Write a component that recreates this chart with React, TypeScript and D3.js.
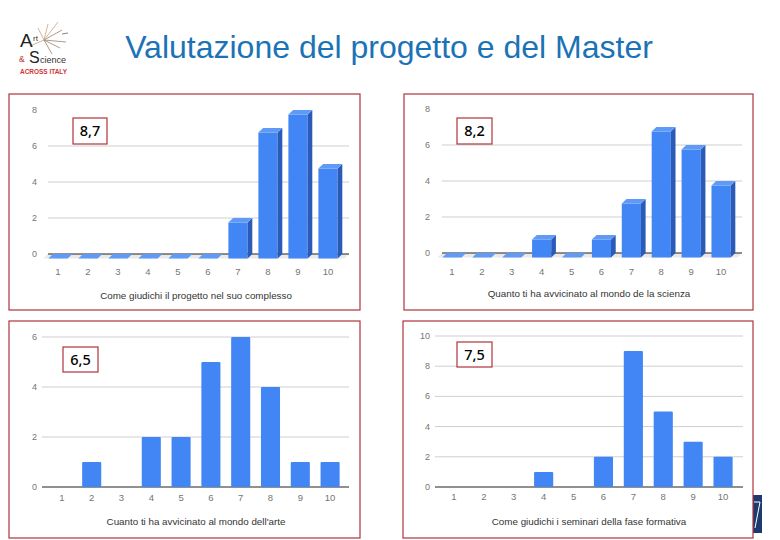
import React from "react";
import * as d3 from "d3";

const categories = ["1", "2", "3", "4", "5", "6", "7", "8", "9", "10"];
const valuesProgetto = [0, 0, 0, 0, 0, 0, 2, 7, 8, 5];
const valuesScienza = [0, 0, 0, 1, 0, 1, 3, 7, 6, 4];
const valuesArte = [0, 1, 0, 2, 2, 5, 6, 4, 1, 1];
const valuesSeminari = [0, 0, 0, 1, 0, 2, 9, 5, 3, 2];
const averages = ["8,7", "8,2", "6,5", "7,5"];
const axisTitles = [
  "Come giudichi il progetto nel suo complesso",
  "Quanto ti ha avvicinato al mondo de la scienza",
  "Cuanto ti ha avvicinato al mondo dell'arte",
  "Come giudichi i seminari della fase formativa",
];
const yTicks3D = [0, 2, 4, 6, 8];
const yTicksArte = [0, 2, 4, 6];
const yTicksSeminari = [0, 2, 4, 6, 8, 10];
const mainTitle = "Valutazione del progetto e del Master";

const BLUE = "#4285f4";
const SIDE = "#2b5bb8";
const TOP = "#5f9af6";
const FRAME = "#b0323c";

type PanelCfg = {
  frame: [number, number, number, number];
  values: number[];
  ticks: number[];
  yMax: number;
  yRange: [number, number];
  xRange: [number, number];
  gridX: [number, number];
  tickX: number;
  xLabelY: number;
  title: string;
  titleX: number;
  titleY: number;
  avg: string;
  box: [number, number, number, number];
  threeD: boolean;
  topGrid: boolean;
};

function Panel({ c }: { c: PanelCfg }) {
  const x = d3
    .scaleBand<string>()
    .domain(categories)
    .range(c.xRange)
    .paddingInner(0.36)
    .paddingOuter(0.18);
  const y = d3.scaleLinear().domain([0, c.yMax]).range(c.yRange);
  const bw = x.bandwidth();
  const dx = 4.7;
  const dy = 4.5;
  const [fx, fy, fw, fh] = c.frame;
  const [bx, by, bW, bH] = c.box;
  const y0 = y(0);
  const gridTicks = c.ticks.filter((t) => t !== 0 && (c.topGrid || t !== c.yMax));
  return (
    <g>
      <rect x={fx} y={fy} width={fw} height={fh} fill="#fff" stroke={FRAME} strokeWidth={1.2} />
      {gridTicks.map((t) => (
        <line key={t} x1={c.gridX[0]} x2={c.gridX[1]} y1={y(t)} y2={y(t)} stroke="#cfcfcf" strokeWidth={1} />
      ))}
      {c.ticks.map((t) => (
        <text key={"yt" + t} x={c.tickX} y={y(t) + 3} textAnchor="end" fontSize={9} fill="#757575" fontFamily="Liberation Sans, Arial, sans-serif">
          {t}
        </text>
      ))}
      {c.threeD && (
        <path
          d={`M${c.gridX[0]},${y0} L${c.gridX[1]},${y0} L${c.gridX[1] - dx},${y0 + dy} L${c.gridX[0] - dx},${y0 + dy} Z`}
          fill="#e9e9e9"
        />
      )}
      <line x1={c.gridX[0]} x2={c.gridX[1]} y1={y0} y2={y0} stroke="#222" strokeWidth={1.2} />
      {c.values.map((v, i) => {
        const cat = categories[i];
        const x0 = x(cat)!;
        const x1 = x0 + bw;
        if (!c.threeD) {
          if (v === 0) return null;
          return <rect key={cat} x={x0} y={y(v)} width={bw} height={y0 - y(v)} fill={BLUE} rx={1} />;
        }
        const yf = y(v) + dy;
        const yb = y0 + dy;
        return (
          <g key={cat}>
            {v > 0 && <rect x={x0} y={yf} width={bw} height={yb - yf} fill={BLUE} />}
            {v > 0 && (
              <path d={`M${x1},${yf} L${x1 + dx},${yf - dy} L${x1 + dx},${yb - dy} L${x1},${yb} Z`} fill={SIDE} />
            )}
            <path d={`M${x0},${yf} L${x1},${yf} L${x1 + dx},${yf - dy} L${x0 + dx},${yf - dy} Z`} fill={TOP} />
          </g>
        );
      })}
      {categories.map((cat) => (
        <text key={"xt" + cat} x={x(cat)! + bw / 2} y={c.xLabelY} textAnchor="middle" fontSize={9.5} fill="#757575" fontFamily="Liberation Sans, Arial, sans-serif">
          {cat}
        </text>
      ))}
      <text x={c.titleX} y={c.titleY} textAnchor="middle" fontSize={9.8} fill="#333" fontFamily="Liberation Sans, Arial, sans-serif">
        {c.title}
      </text>
      <rect x={bx} y={by} width={bW} height={bH} fill="#fff" stroke={FRAME} strokeWidth={1.2} />
      <text x={bx + bW / 2} y={by + bH / 2 + 5} textAnchor="middle" fontSize={14.5} fill="#000" fontFamily="Noto Sans, sans-serif" fontWeight={500}>
        {c.avg}
      </text>
    </g>
  );
}

const panels: PanelCfg[] = [
  {
    frame: [9, 94, 351, 216],
    values: valuesProgetto,
    ticks: yTicks3D,
    yMax: 8,
    yRange: [254, 110],
    xRange: [43, 343],
    gridX: [48, 349],
    tickX: 37,
    xLabelY: 275,
    title: axisTitles[0],
    titleX: 196,
    titleY: 299,
    avg: averages[0],
    box: [73, 118, 34, 26],
    threeD: true,
    topGrid: false,
  },
  {
    frame: [404, 94, 349, 216],
    values: valuesScienza,
    ticks: yTicks3D,
    yMax: 8,
    yRange: [253, 109],
    xRange: [437, 736],
    gridX: [442, 742],
    tickX: 430,
    xLabelY: 275,
    title: axisTitles[1],
    titleX: 589,
    titleY: 297,
    avg: averages[1],
    box: [457, 118, 35, 26],
    threeD: true,
    topGrid: false,
  },
  {
    frame: [9, 321, 351, 217],
    values: valuesArte,
    ticks: yTicksArte,
    yMax: 6,
    yRange: [487, 337],
    xRange: [47, 345],
    gridX: [42, 349],
    tickX: 37,
    xLabelY: 501,
    title: axisTitles[2],
    titleX: 196,
    titleY: 525,
    avg: averages[2],
    box: [63, 347, 35, 25],
    threeD: false,
    topGrid: true,
  },
  {
    frame: [403, 321, 350, 217],
    values: valuesSeminari,
    ticks: yTicksSeminari,
    yMax: 10,
    yRange: [487, 336],
    xRange: [439, 738],
    gridX: [435, 743],
    tickX: 430,
    xLabelY: 500,
    title: axisTitles[3],
    titleX: 589,
    titleY: 525,
    avg: averages[3],
    box: [457, 342, 35, 25],
    threeD: false,
    topGrid: true,
  },
];

function Logo() {
  const rays = [
    [44, 40, 62, 30],
    [44, 40, 58, 22],
    [44, 40, 66, 42],
    [44, 40, 38, 28],
    [44, 40, 52, 54],
    [44, 40, 30, 46],
    [44, 40, 60, 48],
    [44, 40, 48, 24],
  ];
  return (
    <g fontFamily="Liberation Sans, Arial, sans-serif">
      {rays.map((r, i) => (
        <line key={i} x1={r[0]} y1={r[1]} x2={r[2]} y2={r[3]} stroke={i % 2 ? "#c9a27a" : "#9a8070"} strokeWidth={0.8} />
      ))}
      <line x1={62} y1={34} x2={68} y2={33} stroke="#666" strokeWidth={0.8} />
      <text x={20} y={47} fontSize={19} fill="#222">A</text>
      <text x={33} y={41} fontSize={8} fill="#333">rt</text>
      <text x={19} y={62} fontSize={8.5} fill="#c03030">&amp;</text>
      <text x={29} y={63} fontSize={16} fill="#222">S</text>
      <text x={40} y={63} fontSize={9} fill="#333">cience</text>
      <text x={20} y={74} fontSize={7} fill="#d03535" fontWeight="bold" textLength={47} lengthAdjust="spacingAndGlyphs">ACROSS ITALY</text>
    </g>
  );
}

export default function App() {
  return (
    <svg width={780} height={540} style={{ position: "absolute", left: 0, top: 0 }} xmlns="http://www.w3.org/2000/svg">
      <rect width={780} height={540} fill="#fff" />
      <Logo />
      <text x={389} y={58} textAnchor="middle" fontSize={32} fill="#1b73b6" fontFamily="Liberation Sans, Arial, sans-serif">
        {mainTitle}
      </text>
      <rect x={753} y={495} width={9} height={38} fill="#1c3a6e" />
      <path d="M754,502 L760,502 L755,528" stroke="#fff" strokeWidth={1} fill="none" />
      {panels.map((p, i) => (
        <Panel key={i} c={p} />
      ))}
    </svg>
  );
}
